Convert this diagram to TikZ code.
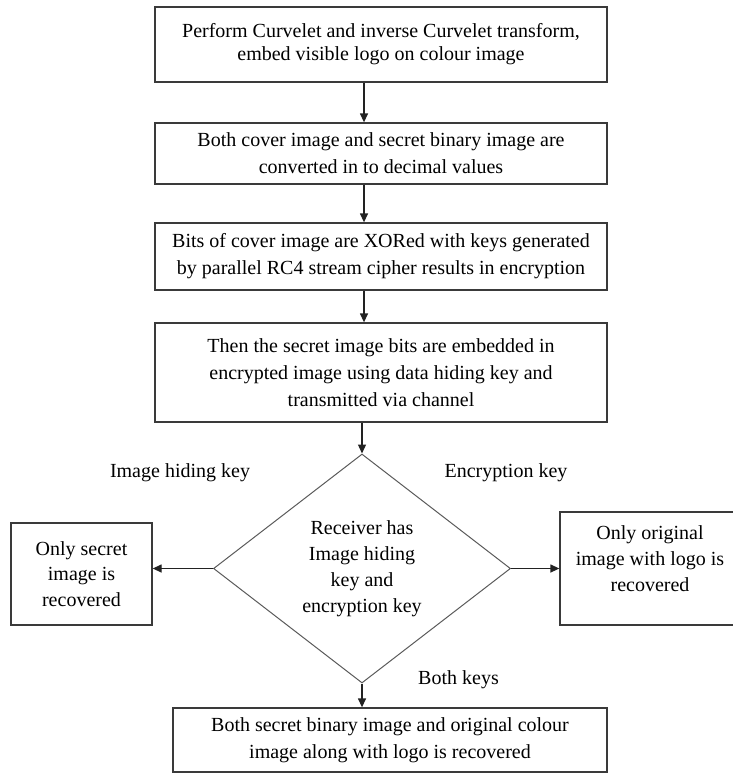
\documentclass[tikz,border=0pt]{standalone}
\usepackage{fontspec}
\setmainfont{Liberation Serif}
\usetikzlibrary{shapes.geometric,arrows.meta}
\definecolor{boxgray}{HTML}{3A3A3A}
\definecolor{diagray}{HTML}{5A5A5A}
\definecolor{arrgray}{HTML}{222222}
\begin{document}
\begin{tikzpicture}[x=1pt,y=-1pt,
  box/.style={draw=boxgray,line width=1.3pt,inner sep=0pt,align=center,font=\fontsize{20}{27}\selectfont},
  lbl/.style={inner sep=0pt,font=\fontsize{20}{24}\selectfont},
  arr/.style={draw=arrgray,line width=1.3pt,-{Triangle[width=8pt,length=9pt]}}
]
\useasboundingbox (0,0) rectangle (733,774);
\clip (0,0) rectangle (733,774);

\node[box,minimum width=452pt,minimum height=75pt,font=\fontsize{20}{23}\selectfont] (b1) at (381,44.5)
  {Perform Curvelet and inverse Curvelet transform,\\embed visible logo on colour image};
\node[box,minimum width=452pt,minimum height=61pt] (b2) at (381,153.5)
  {Both cover image and secret binary image are\\converted in to decimal values};
\node[box,minimum width=452pt,minimum height=67pt] (b3) at (381,256.5)
  {Bits of cover image are XORed with keys generated\\by parallel RC4 stream cipher results in encryption};
\node[box,minimum width=452pt,minimum height=99pt] (b4) at (381,372.5)
  {Then the secret image bits are embedded in\\encrypted image using data hiding key and\\transmitted via channel};

\node[diamond,draw=diagray,line width=1pt,minimum width=297pt,minimum height=229pt,inner sep=0pt,
      align=center,font=\fontsize{20}{26}\selectfont] (d) at (362,568.5)
  {Receiver has\\Image hiding\\key and\\encryption key};

\node[box,minimum width=141pt,minimum height=102pt,font=\fontsize{20}{25.5}\selectfont] (lb) at (81.5,574)
  {Only secret\\image is\\recovered};
\node[box,minimum width=185pt,minimum height=113pt] (rb) at (652.5,568.5) {};
\node[inner sep=0pt,align=center,font=\fontsize{20}{26}\selectfont] (rbt) at (650,559)
  {Only original\\image with logo is\\recovered};

\node[box,minimum width=434pt,minimum height=64pt] (bb) at (390,740)
  {Both secret binary image and original colour\\image along with logo is recovered};

\node[lbl] (l1) at (180,473) {Image hiding key};
\node[lbl] (l2) at (506,473) {Encryption key};
\node[lbl] (l3) at (458.5,680) {Both keys};

\draw[arr] ([xshift=-17pt]b1.south) -- ([xshift=-17pt]b2.north);
\draw[arr] ([xshift=-17pt]b2.south) -- ([xshift=-17pt]b3.north);
\draw[arr] ([xshift=-17pt]b3.south) -- ([xshift=-17pt]b4.north);
\draw[arr] (b4.south -| d.north) -- (d.north);
\draw[arr] (d.west) -- (d.west -| lb.east);
\draw[arr] (d.east) -- (d.east -| rb.west);
\draw[arr] (d.south) -- (d.south |- bb.north);
\end{tikzpicture}
\end{document}
